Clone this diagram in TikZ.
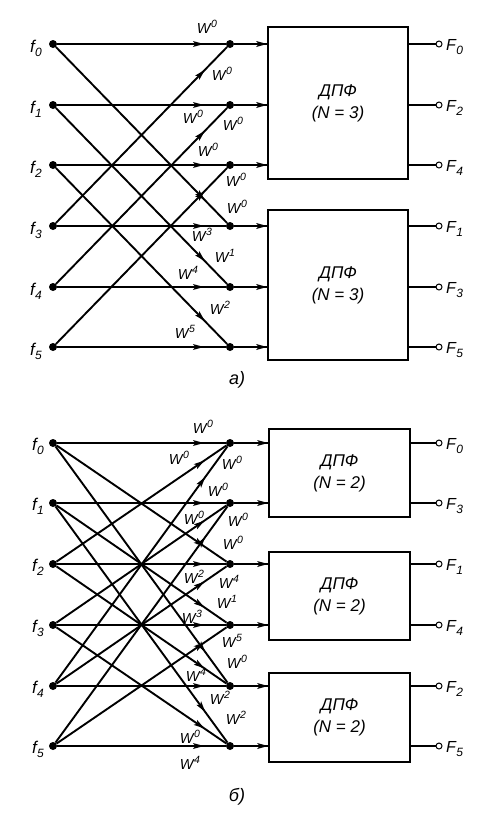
\documentclass[tikz,border=0pt]{standalone}
\usepackage{fontspec}
\setmainfont{Liberation Sans}
\usetikzlibrary{calc}
\newcommand{\Wp}[1]{W\kern0.5pt\raisebox{0.8ex}{\fontsize{10.5}{10.5}\selectfont #1}}
\newcommand{\fsub}[2]{#1\kern0.3pt\raisebox{-0.45ex}{\fontsize{12}{12}\selectfont #2}}
% filled arrowhead with its tip at #1, pointing away from #2
\newcommand{\tri}[2]{\fill ($(#1)$) -- ($($(#1)!11pt!(#2)$)!3pt!90:(#1)$) -- ($(#1)!8.5pt!(#2)$) -- ($($(#1)!11pt!(#2)$)!3pt!-90:(#1)$) -- cycle;}
\begin{document}
\begin{tikzpicture}[x=1pt,y=-1pt,
  pt/.style={circle,fill,inner sep=0pt,minimum size=8pt},
  ring/.style={circle,draw,line width=1pt,fill=white,inner sep=0pt,minimum size=6pt},
  wline/.style={line width=1.9pt},
  feed/.style={line width=1.6pt},
  outl/.style={line width=1.5pt},
  dpf/.style={draw,line width=1.8pt,inner sep=0pt,align=center,font=\fontsize{17}{22}\selectfont\itshape},
  wl/.style={font=\fontsize{14.5}{14.5}\selectfont\itshape,inner sep=0pt},
  fl/.style={font=\fontsize{17}{17}\selectfont\itshape,inner sep=0pt,anchor=east},
  Fl/.style={font=\fontsize{16}{16}\selectfont\itshape,inner sep=0pt,anchor=west},
  capt/.style={font=\fontsize{18}{18}\selectfont\itshape,inner sep=0pt}
]
\useasboundingbox (0,0) rectangle (489,814);

% ---------- a) ----------
\foreach \i/\y in {0/44,1/105,2/165,3/226,4/287,5/347}{
  \node[pt] (af\i) at (53,\y) {};
  \node[pt] (am\i) at (230,\y) {};
  \node[fl] (afl\i) at (42,\y+4) {\fsub{f}{\i}};
}
\node[dpf,minimum width=140pt,minimum height=152pt] (abox1) at (338,103) {ДПФ\\(N = 3)};
\node[dpf,minimum width=140pt,minimum height=150pt] (abox2) at (338,285) {ДПФ\\(N = 3)};

\foreach \a/\b in {0/0,1/1,2/2,3/3,4/4,5/5,0/3,1/4,2/5,3/0,4/1,5/2}{
  \draw[wline] (af\a) -- (am\b) coordinate[pos=0.87] (atp\a\b);
  \tri{atp\a\b}{af\a}
}

\foreach \i in {0,1,2}{\draw[feed] (am\i) -- (am\i -| abox1.west) coordinate (afe\i); \tri{afe\i}{am\i}}
\foreach \i in {3,4,5}{\draw[feed] (am\i) -- (am\i -| abox2.west) coordinate (afe\i); \tri{afe\i}{am\i}}

\foreach \i/\y/\k/\bx in {0/44/0/abox1,1/105/2/abox1,2/165/4/abox1,3/226/1/abox2,4/287/3/abox2,5/347/5/abox2}{
  \node[ring] (ao\i) at (439,\y) {};
  \draw[outl] (\bx.east |- ao\i) -- (ao\i);
  \node[Fl] (aF\i) at (446,\y+3) {\fsub{F}{\k}};
}

\foreach \x/\y/\t [count=\n] in {207/27/0,222/74/0,193/117/0,233/124/0,208/150/0,236/180/0,237/207/0,202/235/3,225/256/1,188/273/4,220/308/2,185/332/5}
  \node[wl] (awl\n) at (\x,\y) {\Wp{\t}};

\node[capt] (acap) at (237,380) {а)};

% ---------- b) ----------
\foreach \i/\y in {0/443,1/503,2/564,3/625,4/686,5/746}{
  \node[pt] (bf\i) at (53,\y) {};
  \node[pt] (bm\i) at (230,\y) {};
  \node[fl] (bfl\i) at (44,\y+3) {\fsub{f}{\i}};
}
\node[dpf,minimum width=141pt,minimum height=88pt] (bbox1) at (339.5,473) {ДПФ\\(N = 2)};
\node[dpf,minimum width=141pt,minimum height=88pt] (bbox2) at (339.5,596) {ДПФ\\(N = 2)};
\node[dpf,minimum width=141pt,minimum height=89pt] (bbox3) at (339.5,717.5) {ДПФ\\(N = 2)};

\foreach \a/\b in {0/0,1/1,2/2,3/3,4/4,5/5,2/0,4/0,3/1,5/1,0/2,4/2,1/3,5/3,0/4,2/4,1/5,3/5}{
  \draw[wline] (bf\a) -- (bm\b) coordinate[pos=0.87] (btp\a\b);
  \tri{btp\a\b}{bf\a}
}

\foreach \i/\bx in {0/bbox1,1/bbox1,2/bbox2,3/bbox2,4/bbox3,5/bbox3}{
  \draw[feed] (bm\i) -- (bm\i -| \bx.west) coordinate (bfe\i);
  \tri{bfe\i}{bm\i}
}

\foreach \i/\y/\k/\bx in {0/443/0/bbox1,1/503/3/bbox1,2/564/1/bbox2,3/625/4/bbox2,4/686/2/bbox3,5/746/5/bbox3}{
  \node[ring] (bo\i) at (439,\y) {};
  \draw[outl] (\bx.east |- bo\i) -- (bo\i);
  \node[Fl] (bF\i) at (446,\y+3) {\fsub{F}{\k}};
}

\foreach \x/\y/\t [count=\n] in {203/427/0,179/458/0,232/463/0,218/490/0,194/518/0,238/520/0,233/543/0,194/577/2,229/582/4,227/602/1,192/617/3,232/641/5,237/662/0,196/675/4,220/698/2,236/718/2,190/737/0,190/763/4}
  \node[wl] (bwl\n) at (\x,\y) {\Wp{\t}};

\node[capt] (bcap) at (237,797) {б)};
\end{tikzpicture}
\end{document}
